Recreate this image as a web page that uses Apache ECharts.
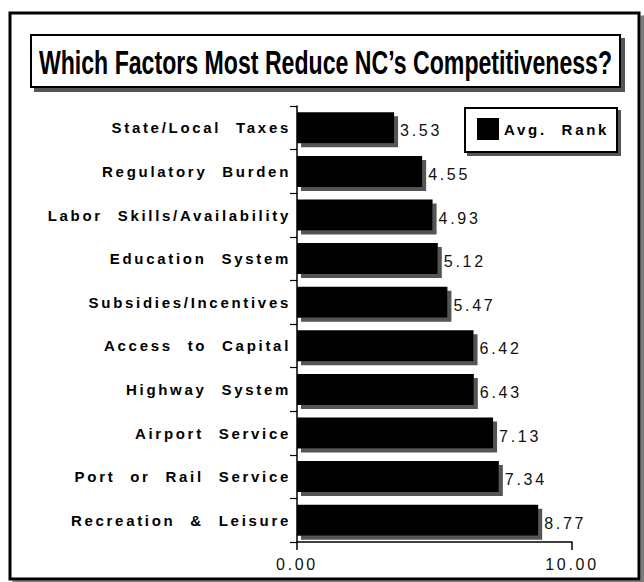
<!DOCTYPE html>
<html>
<head>
<meta charset="utf-8">
<script src="https://cdn.jsdelivr.net/npm/echarts@6/dist/echarts.min.js"></script>
<style>
  html, body { margin: 0; padding: 0; background: #fff; }
  #chart { width: 644px; height: 582px; }
  /* tracked-out label lettering; the condensed headline stays tight */
  #chart svg text { letter-spacing: 2.7px; word-spacing: 8px; }
  #chart svg text[style*="34px"] { letter-spacing: 0; word-spacing: 0; }
</style>
</head>
<body>
<div id="chart"></div>
<script>
// Factors ranked by how much they reduce NC's competitiveness (lower = worse)
const categories = [
  'State/Local Taxes',
  'Regulatory Burden',
  'Labor Skills/Availability',
  'Education System',
  'Subsidies/Incentives',
  'Access to Capital',
  'Highway System',
  'Airport Service',
  'Port or Rail Service',
  'Recreation & Leisure'
];
const avgRank = [3.53, 4.55, 4.93, 5.12, 5.47, 6.42, 6.43, 7.13, 7.34, 8.77];
const axisMin = 0;
const axisMax = 10;
const seriesName = 'Avg. Rank';
const titleText = 'Which Factors Most Reduce NC\u2019s Competitiveness?';

const labelFont = "'Liberation Sans', Arial, Helvetica, sans-serif";

const chart = echarts.init(document.getElementById('chart'), null, { renderer: 'svg' });

chart.setOption({
  backgroundColor: '#fff',
  animation: false,
  graphic: [
    { // outer frame
      type: 'rect', z: 0,
      shape: { x: 10, y: 13, width: 629, height: 566 },
      style: { fill: '#fff', stroke: '#000', lineWidth: 3,
               shadowColor: '#7a7a7a', shadowOffsetX: 4, shadowOffsetY: 4, shadowBlur: 0 }
    },
    { // headline box
      type: 'rect', z: 1,
      shape: { x: 31, y: 35, width: 589, height: 52 },
      style: { fill: '#fff', stroke: '#000', lineWidth: 2,
               shadowColor: '#555', shadowOffsetX: 4, shadowOffsetY: 4, shadowBlur: 0 }
    },
    { // headline, bold type squeezed to a condensed width
      type: 'text', z: 2,
      x: 325.5, y: 62, scaleX: 0.68,
      style: {
        text: titleText,
        font: "bold 34px 'Liberation Sans', Arial, sans-serif",
        fill: '#000', textAlign: 'center', textVerticalAlign: 'middle'
      }
    },
    { // legend box
      type: 'rect', z: 1,
      shape: { x: 465, y: 108, width: 152, height: 44 },
      style: { fill: '#fff', stroke: '#000', lineWidth: 2,
               shadowColor: '#555', shadowOffsetX: 3, shadowOffsetY: 3, shadowBlur: 0 }
    }
  ],
  legend: {
    left: 477, top: 118, padding: 0,
    icon: 'rect', itemWidth: 22, itemHeight: 22,
    itemStyle: { shadowBlur: 0, shadowOffsetX: 0, shadowOffsetY: 0, shadowColor: 'transparent' },
    textStyle: { fontFamily: labelFont, fontWeight: 'bold', fontSize: 15, color: '#000' },
    data: [seriesName]
  },
  grid: { left: 297, right: 72, top: 106, bottom: 40, containLabel: false },
  xAxis: {
    type: 'value', min: axisMin, max: axisMax, interval: 10,
    axisLine: { show: true, lineStyle: { color: '#000', width: 1.5 } },
    axisTick: { show: true, length: 8, lineStyle: { color: '#000', width: 1.5 } },
    splitLine: { show: false },
    axisLabel: {
      margin: 14, fontFamily: labelFont, fontSize: 16, color: '#111',
      formatter: v => v.toFixed(2)
    }
  },
  yAxis: {
    type: 'category', inverse: true, data: categories,
    axisLine: { show: true, lineStyle: { color: '#000', width: 1.5 } },
    axisTick: { show: true, length: 7, lineStyle: { color: '#000', width: 1.2 } },
    axisLabel: {
      interval: 0, margin: 6, fontFamily: labelFont, fontWeight: 'bold',
      fontSize: 15, color: '#000'
    }
  },
  series: [{
    name: seriesName,
    type: 'bar',
    data: avgRank,
    barWidth: 31,
    itemStyle: { color: '#000', shadowColor: '#555', shadowOffsetX: 4, shadowOffsetY: 4, shadowBlur: 0 },
    label: {
      show: true, position: 'right', distance: 6, offset: [0, 3],
      fontFamily: labelFont, fontSize: 16, color: '#111',
      formatter: p => p.value.toFixed(2)
    }
  }]
});
</script>
</body>
</html>
